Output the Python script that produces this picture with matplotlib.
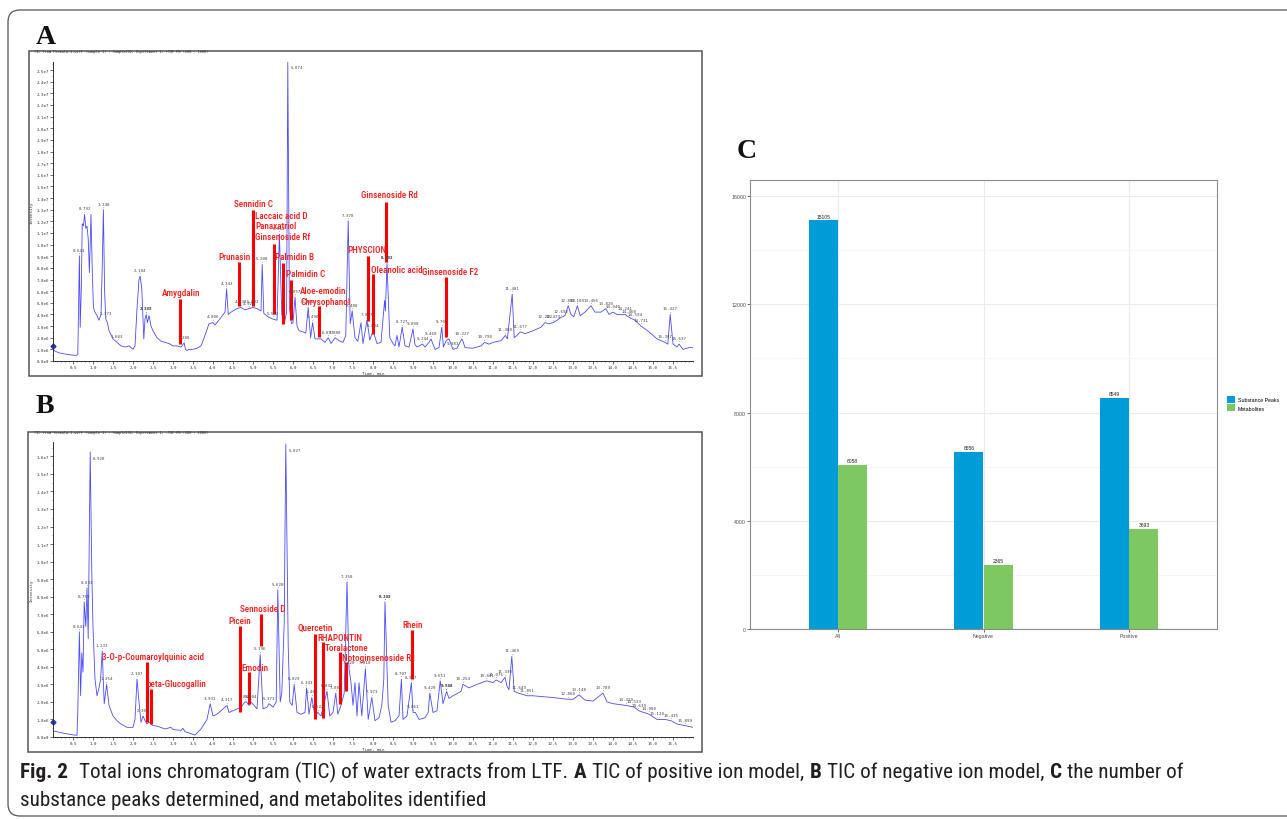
import numpy as np
import matplotlib
matplotlib.use("Agg")
import matplotlib.pyplot as plt
from matplotlib import font_manager
from matplotlib.patches import Rectangle, FancyBboxPatch
from matplotlib.ticker import MultipleLocator, FuncFormatter

# ====================
# data
# ====================
# panel A: TIC positive ion mode (time in min, intensity in 1e6 counts)
a_time = [0.00, 0.05, 0.15, 0.30, 0.45, 0.58, 0.62, 0.64, 0.66, 0.68, 0.71, 0.73, 0.76, 0.79,
          0.82, 0.85, 0.88, 0.91, 0.93, 0.95, 0.98, 1.01, 1.05, 1.10, 1.15, 1.20, 1.23, 1.26,
          1.29, 1.32, 1.36, 1.40, 1.50, 1.60, 1.70, 1.80, 1.90, 2.00, 2.05, 2.10, 2.15, 2.18,
          2.22, 2.27, 2.30, 2.33, 2.36, 2.40, 2.45, 2.50, 2.60, 2.70, 2.80, 2.90, 3.00, 3.10,
          3.20, 3.28, 3.31, 3.35, 3.40, 3.50, 3.60, 3.70, 3.80, 3.90, 4.00, 4.05, 4.10, 4.20,
          4.30, 4.34, 4.38, 4.45, 4.50, 4.60, 4.70, 4.80, 4.90, 5.00, 5.10, 5.20, 5.23, 5.27,
          5.30, 5.40, 5.50, 5.60, 5.66, 5.72, 5.78, 5.84, 5.87, 5.91, 5.96, 6.00, 6.05, 6.10,
          6.15, 6.25, 6.32, 6.38, 6.44, 6.49, 6.55, 6.70, 6.80, 6.88, 6.95, 7.05, 7.15, 7.25,
          7.32, 7.38, 7.43, 7.48, 7.55, 7.62, 7.70, 7.75, 7.85, 7.92, 8.00, 8.10, 8.20, 8.29,
          8.31, 8.35, 8.42, 8.50, 8.55, 8.60, 8.65, 8.73, 8.80, 8.90, 9.00, 9.05, 9.10, 9.24,
          9.30, 9.40, 9.45, 9.55, 9.65, 9.72, 9.76, 9.83, 9.90, 10.00, 10.10, 10.22, 10.25,
          10.30, 10.50, 10.70, 10.79, 10.90, 11.00, 11.20, 11.31, 11.36, 11.48, 11.53, 11.60,
          11.68, 11.80, 12.00, 12.20, 12.30, 12.40, 12.50, 12.60, 12.70, 12.80, 12.88, 12.95,
          13.02, 13.11, 13.18, 13.30, 13.45, 13.55, 13.70, 13.82, 13.90, 14.00, 14.10, 14.30,
          14.40, 14.55, 14.70, 14.90, 15.10, 15.30, 15.37, 15.43, 15.50, 15.60, 15.65, 15.75,
          15.90, 16.00]
a_int = [1.00, 0.85, 0.70, 0.60, 0.52, 0.48, 0.55, 5.0, 9.05, 2.9, 6.5, 11.8, 11.6, 12.6,
         11.4, 11.6, 10.5, 7.6, 10.0, 12.6, 8.0, 4.6, 4.2, 3.9, 3.5, 4.0, 8.0, 13.0,
         6.0, 3.6, 3.3, 2.6, 1.9, 1.6, 1.3, 1.2, 1.3, 1.0, 1.3, 4.5, 7.0, 7.3,
         6.2, 1.9, 3.6, 4.0, 3.3, 3.9, 3.0, 2.6, 2.0, 1.7, 1.6, 1.5, 1.3, 1.3,
         1.2, 1.55, 1.0, 0.9, 1.0, 1.0, 1.1, 1.3, 2.2, 3.2, 3.3, 3.1, 3.3, 3.75,
         4.2, 6.2, 4.0, 4.2, 4.3, 4.5, 4.6, 4.4, 4.5, 4.6, 4.5, 4.3, 8.3, 4.1,
         4.0, 3.75, 3.6, 3.5, 10.9, 4.0, 3.2, 4.2, 25.7, 4.6, 3.2, 3.3, 5.5, 3.0,
         2.6, 2.5, 2.4, 4.6, 2.0, 3.3, 1.9, 1.9, 1.6, 2.0, 1.5, 2.0, 1.75, 1.6,
         2.2, 12.05, 3.2, 4.3, 2.0, 1.7, 3.3, 1.5, 3.5, 1.8, 2.6, 1.5, 1.6, 5.2,
         4.3, 8.4, 2.0, 1.5, 1.3, 2.2, 1.2, 2.9, 1.3, 1.2, 2.75, 1.4, 1.2, 1.45,
         1.2, 1.6, 1.9, 1.0, 1.15, 2.9, 1.2, 1.75, 1.9, 1.0, 1.1, 1.9, 1.7,
         1.15, 1.1, 1.3, 1.6, 1.45, 1.6, 1.75, 2.2, 1.9, 5.75, 2.0, 2.2,
         2.5, 2.35, 2.6, 2.9, 3.3, 3.2, 3.3, 3.5, 3.75, 3.9, 4.75, 4.0,
         3.8, 4.75, 3.9, 4.2, 4.75, 4.2, 4.2, 4.5, 4.0, 4.2, 4.0, 4.0,
         3.75, 3.5, 3.0, 2.5, 1.9, 1.6, 1.45, 4.0, 1.45, 1.2, 1.45, 1.0,
         1.15, 1.15]
a_peak_labels = ["0.643", "0.792", "1.240", "1.373", "1.603", "2.184", "2.322", "2.389", "3.280",
                 "4.006", "4.343", "4.738", "4.921", "5.032", "5.208", "5.502", "5.662", "5.874",
                 "6.057", "6.380", "6.490", "6.897", "7.080", "7.378", "7.480", "7.847", "8.004",
                 "8.292", "8.403", "8.727", "9.000", "9.244", "9.460", "9.703", "9.983", "10.227",
                 "10.790", "11.308", "11.481", "11.677", "12.292", "12.474", "12.692", "12.880",
                 "13.109", "13.456", "13.820", "14.040", "14.241", "14.460", "14.594", "14.731",
                 "15.307", "15.427", "15.637"]
a_names = ["Amygdalin", "Prunasin", "Sennidin C", "Laccaic acid D", "Panaxatriol",
           "Ginsenoside Rf", "Palmidin B", "Palmidin C", "Aloe-emodin", "Chrysophanol",
           "PHYSCION", "Oleanolic acid", "Ginsenoside Rd", "Ginsenoside F2"]
a_name_t = [3.20, 4.53, 5.00, 5.06, 5.06, 5.06, 5.55, 5.83, 6.18, 6.18, 7.86, 7.94, 8.42, 9.93]
a_name_i = [5.9, 9.0, 13.55, 12.54, 11.6, 10.7, 9.0, 7.55, 6.04, 5.13, 9.56, 7.9, 14.3, 7.7]
a_name_ha = ["center", "center", "center", "left", "left", "left", "left", "left", "left", "left",
             "center", "left", "center", "center"]
a_bar_t = [3.18, 4.65, 4.99, 5.52, 5.76, 5.94, 6.66, 7.88, 8.00, 8.33, 9.82]
a_bar_top = [5.3, 8.5, 13.0, 10.05, 8.4, 7.0, 4.7, 9.0, 7.47, 13.7, 7.2]
a_bar_bot = [1.45, 4.7, 4.7, 4.0, 3.2, 3.5, 2.05, 3.46, 2.3, 8.5, 2.06]

# panel B: TIC negative ion mode
b_time = [0.00, 0.10, 0.30, 0.50, 0.60, 0.62, 0.66, 0.69, 0.72, 0.75, 0.78, 0.82, 0.85, 0.88,
          0.93, 0.97, 1.00, 1.05, 1.10, 1.15, 1.19, 1.23, 1.28, 1.34, 1.40, 1.50, 1.60, 1.70,
          1.85, 2.00, 2.05, 2.10, 2.15, 2.20, 2.25, 2.30, 2.35, 2.40, 2.50, 2.60, 2.80, 2.95,
          3.00, 3.20, 3.25, 3.30, 3.40, 3.55, 3.70, 3.85, 3.93, 4.00, 4.10, 4.20, 4.30, 4.35,
          4.40, 4.50, 4.60, 4.70, 4.80, 4.84, 4.90, 4.95, 5.10, 5.18, 5.25, 5.35, 5.40, 5.50,
          5.58, 5.62, 5.68, 5.72, 5.78, 5.82, 5.88, 5.92, 5.98, 6.03, 6.10, 6.20, 6.30, 6.34,
          6.40, 6.47, 6.55, 6.62, 6.70, 6.85, 6.92, 7.00, 7.07, 7.12, 7.20, 7.28, 7.35, 7.40,
          7.45, 7.50, 7.55, 7.60, 7.65, 7.72, 7.81, 7.88, 7.97, 8.05, 8.15, 8.22, 8.27, 8.30,
          8.38, 8.45, 8.55, 8.65, 8.71, 8.75, 8.85, 8.96, 9.00, 9.06, 9.15, 9.30, 9.38, 9.42,
          9.50, 9.60, 9.68, 9.75, 9.84, 9.90, 10.00, 10.20, 10.25, 10.40, 10.60, 10.84, 11.00,
          11.08, 11.20, 11.30, 11.35, 11.40, 11.47, 11.53, 11.64, 11.85, 12.00, 12.50, 12.87,
          13.00, 13.15, 13.30, 13.50, 13.75, 13.85, 14.00, 14.33, 14.53, 14.64, 14.90, 15.10,
          15.30, 15.45, 15.60, 15.80, 16.00]
b_int = [0.35, 0.30, 0.20, 0.12, 0.10, 1.5, 6.0, 2.35, 4.8, 3.7, 7.7, 6.3, 8.5, 5.6,
         16.25, 9.4, 6.3, 3.3, 2.35, 2.8, 3.3, 4.9, 1.9, 3.0, 1.8, 1.2, 0.93, 0.74,
         0.55, 0.55, 1.0, 3.3, 2.0, 0.84, 1.2, 0.93, 0.74, 0.85, 0.65, 0.62, 0.46, 0.55,
         0.42, 0.38, 0.5, 0.3, 0.23, 0.11, 0.46, 1.0, 1.9, 1.2, 1.3, 1.5, 1.7, 1.8,
         1.4, 1.5, 1.6, 1.7, 2.0, 2.0, 1.8, 2.0, 1.6, 4.7, 1.6, 1.7, 1.9, 1.7,
         2.0, 8.4, 2.0, 2.5, 6.5, 16.7, 5.2, 2.0, 1.8, 3.0, 1.4, 1.3, 1.4, 2.8,
         1.3, 2.25, 1.2, 1.4, 1.2, 2.6, 1.2, 1.4, 2.5, 1.3, 1.8, 2.5, 8.85, 3.9,
         3.1, 1.8, 3.1, 1.2, 3.1, 1.2, 3.9, 1.0, 2.25, 0.93, 1.1, 1.8, 3.3, 7.7,
         1.8, 0.84, 0.93, 1.2, 3.3, 1.0, 1.2, 3.1, 1.4, 1.4, 1.0, 1.1, 1.4, 2.5,
         1.4, 1.5, 3.2, 1.9, 2.6, 2.2, 2.35, 2.6, 3.0, 2.8, 3.0, 3.2, 3.1,
         3.25, 3.1, 3.4, 2.9, 2.7, 4.6, 2.6, 2.5, 2.35, 2.35, 2.25, 2.15,
         2.15, 2.4, 2.1, 2.05, 2.5, 2.0, 1.9, 1.8, 1.7, 1.5, 1.3, 1.0,
         1.0, 0.93, 0.74, 0.65, 0.55]
b_peak_labels = ["0.641", "0.759", "0.833", "0.928", "1.233", "1.354", "2.107", "2.301", "3.931",
                 "4.317", "4.840", "5.004", "5.196", "5.373", "5.620", "5.827", "6.029", "6.343",
                 "6.466", "6.622", "6.832", "7.080", "7.350", "7.420", "7.810", "7.973", "8.249",
                 "8.302", "8.707", "8.967", "9.063", "9.420", "9.651", "9.788", "9.844", "10.254",
                 "10.841", "11.076", "11.330", "11.469", "11.643", "11.851", "12.868", "13.148",
                 "13.789", "14.329", "14.533", "14.639", "14.900", "15.128", "15.435", "15.899"]
b_names = ["3-O-p-Coumaroylquinic acid", "beta-Glucogallin", "Picein", "Sennoside D", "Emodin",
           "Quercetin", "RHAPONTIN", "Toralactone", "Notoginsenoside R1", "Rhein"]
b_name_t = [2.51, 3.08, 4.67, 5.24, 5.05, 6.55, 6.62, 6.80, 7.22, 8.99]
b_name_i = [4.57, 3.04, 6.62, 7.3, 3.97, 6.25, 5.67, 5.1, 4.54, 6.4]
b_name_ha = ["center", "center", "center", "center", "center", "center", "left", "left", "left",
             "center"]
b_bar_t = [2.34, 2.45, 4.67, 5.19, 4.91, 6.55, 6.74, 7.18, 7.32, 8.97]
b_bar_top = [4.3, 2.73, 6.3, 7.0, 3.72, 5.9, 5.4, 4.82, 4.25, 6.11]
b_bar_bot = [0.84, 0.74, 1.44, 5.2, 1.88, 1.03, 1.07, 1.88, 2.64, 3.3]

# panel C: counts
categories = ["All", "Negative", "Positive"]
substance_peaks = [15105, 6556, 8549]
metabolites = [6058, 2365, 3693]

# ====================
# figure setup
# ====================
W, H = 1287, 820
fig = plt.figure(figsize=(W / 100, H / 100), dpi=100)
fig.patch.set_facecolor("white")

_names = {f.name for f in font_manager.fontManager.ttflist}
COND, COND_STRETCH = None, "normal"
for c in ["Roboto Condensed", "Liberation Sans Narrow", "Open Sans Condensed", "Noto Sans Condensed"]:
    if c in _names:
        COND = c
        break
if COND is None:
    for f in font_manager.fontManager.ttflist:
        if f.stretch in ("condensed", "semi-condensed") and f.name in (
                "DejaVu Sans", "Roboto", "Open Sans", "Noto Sans", "Liberation Sans"):
            COND, COND_STRETCH = f.name, f.stretch
            break
RED_SIZE = 6.6
if COND is None:
    COND, RED_SIZE = "Liberation Sans", 5.8
MONO = "DejaVu Sans Mono"
TRACE = "#4b4bff"
BLUE = "#009cd8"
GREEN = "#7ec862"


def px_axes(left, top, right, bottom):
    return fig.add_axes([left / W, 1 - bottom / H, (right - left) / W, (bottom - top) / H])


# background layer in pixel coordinates (frames, letters, caption)
bg = fig.add_axes([0, 0, 1, 1])
bg.set_xlim(0, W)
bg.set_ylim(H, 0)
bg.axis("off")
bg.add_patch(FancyBboxPatch((8, 11), 1330, 806, boxstyle="round,pad=0,rounding_size=12",
                            fc="none", ec="#555555", lw=0.9))
bg.add_patch(Rectangle((29, 52), 673, 325, fc="white", ec="#555555", lw=1.1))
bg.add_patch(Rectangle((28, 433), 674, 320, fc="white", ec="#555555", lw=1.1))
for letter, x, y in [("A", 36, 38), ("B", 36, 407), ("C", 737, 152)]:
    bg.text(x, y, letter, family="Liberation Serif", fontweight="bold", fontsize=20,
            ha="left", va="center", color="#111111")


def sci(v, pos):
    if v <= 0:
        return "0.0e0"
    e = int(np.floor(np.log10(v) + 1e-9))
    return f"{v / 10 ** e:.1f}e{e}"


def chromatogram(ax, t, inten, ymax, nticks, peak_labels, header,
                 names, name_t, name_i, name_ha, bar_t, bar_top, bar_bot, marker_i):
    ax.set_facecolor("none")
    t = np.asarray(t)
    v = np.asarray(inten) * 1e6
    ax.plot(t, v, color=TRACE, lw=0.6)
    ax.set_xlim(0, 16)
    ax.set_ylim(0, ymax)
    for s in ["top", "right"]:
        ax.spines[s].set_visible(False)
    for s in ["left", "bottom"]:
        ax.spines[s].set_color("#333333")
        ax.spines[s].set_linewidth(0.7)
    ax.set_xticks(np.arange(0.5, 16.0, 0.5))
    ax.set_xticklabels([f"{x:.1f}" for x in np.arange(0.5, 16.0, 0.5)])
    ax.xaxis.set_minor_locator(MultipleLocator(0.1))
    ax.set_yticks(np.arange(0, nticks + 1) * 1e6)
    ax.yaxis.set_major_formatter(FuncFormatter(sci))
    ax.yaxis.set_minor_locator(MultipleLocator(0.5e6))
    ax.tick_params(which="major", length=2, width=0.5, pad=1, labelsize=3, color="#333333",
                   labelcolor="#333333")
    ax.tick_params(which="minor", length=1, width=0.4, color="#333333")
    for lab in ax.get_xticklabels() + ax.get_yticklabels():
        lab.set_family(MONO)
    ax.set_xlabel("Time, min", family=MONO, fontsize=3, labelpad=1, color="#333333")
    ax.set_ylabel("Intensity", family=MONO, fontsize=3, labelpad=2, color="#333333")
    ax.text(-0.03, 1.035, header, transform=ax.transAxes, family=MONO, fontsize=2.6,
            color="#333333", ha="left", va="center")
    ax.plot([0], [marker_i * 1e6], marker="D", ms=2.5, color="#2233cc", clip_on=False)

    # retention-time labels above peaks
    for lab in peak_labels:
        c = float(lab)
        m = (t > c - 0.07) & (t < c + 0.07)
        i = int(np.argmax(np.where(m, v, -1))) if m.any() else int(np.argmin(abs(t - c)))
        if v[i] > 0.9 * ymax:
            ax.annotate(lab, (t[i], v[i]), xytext=(2, -4), textcoords="offset points",
                        ha="left", va="center", family=MONO, fontsize=3, color="#444444")
        else:
            ax.annotate(lab + "\n'", (t[i], v[i]), xytext=(0, 0.5), textcoords="offset points",
                        ha="center", va="bottom", family=MONO, fontsize=3, color="#444444",
                        linespacing=0.8)

    # identified compounds
    for bt, top, bot in zip(bar_t, bar_top, bar_bot):
        ax.plot([bt, bt], [bot * 1e6, top * 1e6], color="red", lw=2.2, solid_capstyle="butt")
    for name, nt, ni, ha in zip(names, name_t, name_i, name_ha):
        ax.text(nt, ni * 1e6, name, color="#ff1a1a", family=COND, fontstretch=COND_STRETCH,
                fontsize=RED_SIZE, fontweight="medium", ha=ha, va="center")


axa = px_axes(53, 62.9, 693, 362)
chromatogram(axa, a_time, a_int, 2.57e7, 25, a_peak_labels,
             "TIC from Formula-1.wiff (sample 1) - Sample232, Experiment 1, +TOF MS (100 - 1000)",
             a_names, a_name_t, a_name_i, a_name_ha, a_bar_t, a_bar_top, a_bar_bot, 1.3)

axb = px_axes(53, 443.3, 693, 738)
chromatogram(axb, b_time, b_int, 1.68e7, 16, b_peak_labels,
             "TIC from formula-1.wiff (sample 1) - Sample136, Experiment 1, -TOF MS (100 - 1000)",
             b_names, b_name_t, b_name_i, b_name_ha, b_bar_t, b_bar_top, b_bar_bot, 0.87)

# ====================
# panel C: grouped bars
# ====================
axc = px_axes(750.2, 181, 1216.8, 630)
x = np.arange(1, len(categories) + 1)
axc.bar(x - 0.1, substance_peaks, 0.2, color=BLUE, label="Substance Peaks", zorder=2)
axc.bar(x + 0.1, metabolites, 0.2, color=GREEN, label="Metabolites", zorder=2)
for xi, sp, mt in zip(x, substance_peaks, metabolites):
    axc.text(xi - 0.1, sp + 60, str(sp), ha="center", va="bottom", fontsize=3.6,
             family="Liberation Sans", color="#222222")
    axc.text(xi + 0.1, mt + 60, str(mt), ha="center", va="bottom", fontsize=3.6,
             family="Liberation Sans", color="#222222")
axc.set_xlim(0.4, 3.6)
axc.set_ylim(0, 16592)
axc.set_xticks(x)
axc.set_xticklabels(categories)
axc.set_yticks(np.arange(0, 16001, 4000))
axc.yaxis.set_minor_locator(MultipleLocator(2000))
axc.set_axisbelow(True)
axc.xaxis.grid(True, which="major", color="#ebebeb", lw=0.8)
axc.yaxis.grid(True, which="major", color="#ebebeb", lw=0.8)
axc.yaxis.grid(True, which="minor", color="#f5f5f5", lw=0.6)
axc.tick_params(which="major", length=2, width=0.5, pad=1, labelsize=3.8, color="#333333",
                labelcolor="#4d4d4d")
axc.tick_params(which="minor", length=0)
for lab in axc.get_xticklabels() + axc.get_yticklabels():
    lab.set_family("Liberation Sans")
for s in axc.spines.values():
    s.set_color("#8c8c8c")
    s.set_linewidth(0.8)
leg = axc.legend(loc="upper left", bbox_to_anchor=(1226.7 / W, 1 - 397.3 / H),
                 bbox_transform=fig.transFigure, frameon=False, borderpad=0, borderaxespad=0,
                 handlelength=1.6, handleheight=1.6, handletextpad=0.5, labelspacing=0.25,
                 prop={"family": "Liberation Sans", "size": 3.8})

# ====================
# caption (size fitted so the first line spans the reference width)
# ====================
renderer = fig.canvas.get_renderer()
line1 = [("Fig. 2", True, 2),
         ("Total ions chromatogram (TIC) of water extracts from LTF.", False, 1),
         ("A", True, 1), ("TIC of positive ion model,", False, 1),
         ("B", True, 1), ("TIC of negative ion model,", False, 1),
         ("C", True, 1), ("the number of", False, 1)]
line2 = [("substance peaks determined, and metabolites identified", False, 0)]


def caption_line(x, y, parts, size, draw=True):
    space = size * 100 / 72 * 0.26
    x0 = x
    for s, bold, gap in parts:
        txt = bg.text(x, y, s, fontsize=size, fontweight="bold" if bold else "normal",
                      family=COND, fontstretch=COND_STRETCH, color="#231f20",
                      ha="left", va="baseline")
        w = txt.get_window_extent(renderer).width
        if not draw:
            txt.remove()
        x += w + space * gap
    return x - x0


probe = caption_line(20, 778, line1, 12, draw=False)
cap_size = min(16.5, 12 * (1190 - 20) / probe)
caption_line(20, 778, line1, cap_size)
caption_line(20, 806, line2, cap_size)

fig.savefig("out.png", dpi=100, facecolor="white")
